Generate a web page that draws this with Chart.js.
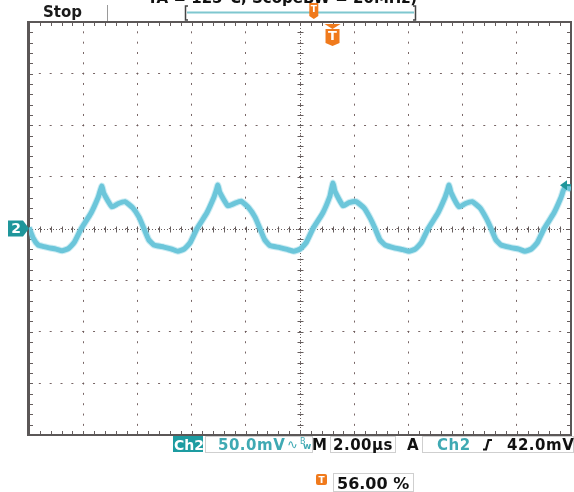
<!DOCTYPE html>
<html>
<head>
<meta charset="utf-8">
<script src="https://cdn.jsdelivr.net/npm/chart.js@4.4.0/dist/chart.umd.min.js"></script>
<style>
html, body { margin: 0; padding: 0; background: #fff; }
canvas { display: block; }
</style>
</head>
<body>
<canvas id="scope" width="574" height="492"></canvas>
<script>
// Ch2 波形 (時間 µs / 電圧 mV)
let timeUs = [
  0.00, 0.15, 0.34, 0.55, 0.71, 1.00, 1.22, 1.45, 1.67, 1.93, 2.29, 2.55, 2.62, 2.69, 2.76,
  3.06, 3.28, 3.54, 3.83, 4.06, 4.24, 4.42, 4.61, 4.98, 5.27, 5.49, 5.72, 5.94, 6.20, 6.56, 6.82, 6.90, 6.97, 7.04,
  7.34, 7.56, 7.82, 8.11, 8.34, 8.52, 8.70, 8.89, 9.26, 9.55, 9.77, 10.00, 10.22, 10.48, 10.84, 11.10, 11.15, 11.22, 11.29,
  11.59, 11.81, 12.07, 12.36, 12.59, 12.77, 12.95, 13.14, 13.51, 13.80, 14.02, 14.25, 14.47, 14.73, 15.09, 15.35, 15.43, 15.50, 15.57,
  15.87, 16.09, 16.35, 16.64, 16.87, 17.05, 17.23, 17.42, 17.79, 18.08, 18.30, 18.53, 18.75, 19.01, 19.37, 19.63, 19.72, 19.80, 20.00
];
let ch2mV = [
  1, -9, -16, -17.5, -18.5, -20, -21.5, -19.5, -13.5, 0, 15, 30, 36, 41, 34,
  21, 24, 26, 20, 11, 0, -11, -16, -18, -20, -22, -20, -14, 0, 15, 30, 36, 42, 35,
  22, 24, 26.5, 20, 11, 0, -11, -16.5, -18.5, -20.5, -22, -20, -14, 0, 15, 31, 37, 44, 36,
  22, 25, 26, 20, 10, 0, -11, -16, -19, -20.5, -22, -20, -14, 0, 15, 30, 36, 42, 35,
  21, 24, 26, 20, 10, 0, -11, -16, -18.5, -20, -22, -20, -14, 0, 15, 30, 37, 40, 38
];

// 画面設定
let timeDivUs = 2;      // 2.00µs/div
let voltDivMv = 50;     // 50.0mV/div
let triggerLevelMv = 42.0;
let triggerPosPct = 56.00;

// 表示テキスト
let titleText = 'TA = 125°C, ScopeBW = 20MHz)';
let runText = 'Stop';
let chLabel = 'Ch2';
let voltText = '50.0mV';
let timeText = '2.00µs';
let trigLevelText = '42.0mV';
let trigPosText = '56.00 %';

let teal = '#1f969b';
let orange = '#f07a1c';
let gridColor = 'rgba(105, 85, 85, 0.9)';

function drawTMarker(ctx, x, top, w, h, fontSize) {
  ctx.fillStyle = orange;
  ctx.beginPath();
  ctx.moveTo(x - w / 2, top);
  ctx.lineTo(x + w / 2, top);
  ctx.lineTo(x + w / 2, top + h - 3);
  ctx.lineTo(x, top + h);
  ctx.lineTo(x - w / 2, top + h - 3);
  ctx.closePath();
  ctx.fill();
  ctx.fillStyle = '#fff';
  ctx.font = 'bold ' + fontSize + 'px "DejaVu Sans"';
  ctx.textAlign = 'center';
  ctx.textBaseline = 'middle';
  ctx.fillText('T', x, top + h / 2 - 1);
}

let scopeDeco = {
  id: 'scopeDeco',
  beforeDatasetsDraw(chart) {
    let ctx = chart.ctx;
    let a = chart.chartArea;
    let xs = chart.scales.x;
    let ys = chart.scales.y;
    ctx.save();
    // 中心軸の小目盛り
    ctx.strokeStyle = '#665e5e';
    ctx.lineWidth = 1;
    let y0 = Math.round(ys.getPixelForValue(0)) + 0.5;
    let x0 = Math.round(xs.getPixelForValue(10)) + 0.5;
    for (let i = 0; i <= 50; i++) {
      let px = Math.round(xs.getPixelForValue(i * timeDivUs / 5)) + 0.5;
      ctx.beginPath();
      ctx.moveTo(px, y0 - 3); ctx.lineTo(px, y0 + 3);
      ctx.moveTo(px, a.top); ctx.lineTo(px, a.top + 4);
      ctx.moveTo(px, a.bottom); ctx.lineTo(px, a.bottom - 4);
      ctx.stroke();
    }
    for (let j = 0; j <= 40; j++) {
      let py = Math.round(ys.getPixelForValue(-200 + j * voltDivMv / 5)) + 0.5;
      ctx.beginPath();
      ctx.moveTo(x0 - 3, py); ctx.lineTo(x0 + 3, py);
      ctx.moveTo(a.left, py); ctx.lineTo(a.left + 4, py);
      ctx.moveTo(a.right, py); ctx.lineTo(a.right - 4, py);
      ctx.stroke();
    }
    ctx.beginPath();
    ctx.moveTo(a.left, y0); ctx.lineTo(a.right, y0);
    ctx.moveTo(x0, a.top); ctx.lineTo(x0, a.bottom);
    ctx.setLineDash([1, 2]);
    ctx.stroke();
    ctx.setLineDash([]);
    // 枠
    ctx.strokeStyle = '#5b5757';
    ctx.lineWidth = 2;
    ctx.strokeRect(a.left, a.top, a.right - a.left, a.bottom - a.top);
    ctx.fillStyle = '#5b5757';
    ctx.fillRect(a.left - 2, a.top - 1, 2, a.bottom - a.top + 2);
    ctx.restore();
  },
  afterDraw(chart) {
    let ctx = chart.ctx;
    let a = chart.chartArea;
    let xs = chart.scales.x;
    let ys = chart.scales.y;
    ctx.save();

    // タイトル (上で切れている)
    ctx.fillStyle = '#111';
    ctx.font = 'bold 15px "DejaVu Sans"';
    ctx.textAlign = 'right';
    ctx.textBaseline = 'alphabetic';
    ctx.fillText(titleText, 417, 3);

    // Stop
    ctx.textAlign = 'left';
    ctx.fillStyle = '#1a1a1a';
    ctx.fillText(runText, 43, 17);
    ctx.strokeStyle = '#9a9a9a';
    ctx.lineWidth = 1;
    ctx.beginPath();
    ctx.moveTo(107.5, 5); ctx.lineTo(107.5, 21);
    ctx.stroke();

    // レコード位置のブラケット
    ctx.strokeStyle = '#7fc7cf';
    ctx.lineWidth = 2;
    ctx.beginPath();
    ctx.moveTo(187, 12.5); ctx.lineTo(414, 12.5);
    ctx.stroke();
    ctx.strokeStyle = '#444';
    ctx.lineWidth = 1.5;
    ctx.beginPath();
    ctx.moveTo(188, 6); ctx.lineTo(185.5, 6); ctx.lineTo(185.5, 20); ctx.lineTo(188, 20);
    ctx.moveTo(413, 6); ctx.lineTo(415.5, 6); ctx.lineTo(415.5, 20); ctx.lineTo(413, 20);
    ctx.stroke();
    drawTMarker(ctx, 185 + (415 - 185) * triggerPosPct / 100, 3, 9, 16, 9);

    // トリガー位置 T
    let tx = xs.getPixelForValue(20 * triggerPosPct / 100);
    ctx.fillStyle = orange;
    ctx.beginPath();
    ctx.moveTo(tx - 8, 24); ctx.lineTo(tx + 8, 24); ctx.lineTo(tx, 29);
    ctx.closePath();
    ctx.fill();
    drawTMarker(ctx, tx, 29, 14, 17, 13);

    // Ch2 グランドマーカー
    let gy = ys.getPixelForValue(0);
    ctx.fillStyle = teal;
    ctx.beginPath();
    ctx.moveTo(8, gy - 8); ctx.lineTo(23, gy - 8); ctx.lineTo(29, gy);
    ctx.lineTo(23, gy + 8); ctx.lineTo(8, gy + 8);
    ctx.closePath();
    ctx.fill();
    ctx.fillStyle = '#fff';
    ctx.font = 'bold 14px "DejaVu Sans"';
    ctx.textAlign = 'center';
    ctx.textBaseline = 'middle';
    ctx.fillText('2', 16, gy + 1);

    // トリガーレベル矢印
    let ty = ys.getPixelForValue(triggerLevelMv);
    ctx.fillStyle = teal;
    ctx.beginPath();
    ctx.moveTo(a.right - 11, ty); ctx.lineTo(a.right - 4, ty - 5); ctx.lineTo(a.right - 4, ty + 5);
    ctx.closePath();
    ctx.fill();
    ctx.fillRect(a.right - 6, ty - 1, 6, 2);

    // 下のステータス行
    let rowTop = 436, rowH = 16, base = 450;
    ctx.textBaseline = 'alphabetic';
    ctx.textAlign = 'left';
    ctx.fillStyle = '#1d9ca1';
    ctx.fillRect(173, rowTop, 30, rowH);
    ctx.fillStyle = '#fff';
    ctx.font = 'bold 14px "DejaVu Sans"';
    ctx.fillText(chLabel, 174, base);

    ctx.strokeStyle = '#cfcfcf';
    ctx.lineWidth = 1;
    ctx.strokeRect(205.5, rowTop + 0.5, 107, rowH);
    ctx.strokeRect(330.5, rowTop + 0.5, 65, rowH);
    ctx.strokeRect(422.5, rowTop + 0.5, 151, rowH);

    ctx.font = 'bold 15px "DejaVu Sans"';
    ctx.letterSpacing = '0.5px';
    ctx.fillStyle = '#3fa9b3';
    ctx.fillText(voltText, 218, base);
    ctx.letterSpacing = '0px';
    ctx.font = '13px "DejaVu Sans"';
    ctx.fillText('∿', 287, base - 1);
    ctx.font = '8px "DejaVu Sans"';
    ctx.fillText('B', 300, base - 6);
    ctx.font = 'bold 9px "DejaVu Sans"';
    ctx.fillText('w', 303, base - 1);

    ctx.fillStyle = '#111';
    ctx.font = 'bold 15px "DejaVu Sans"';
    ctx.fillText('M', 312, base);
    ctx.letterSpacing = '0.5px';
    ctx.fillText(timeText, 333, base);
    ctx.letterSpacing = '0px';
    ctx.fillText('A', 407, base);
    ctx.letterSpacing = '0.5px';
    ctx.fillStyle = '#3fa9b3';
    ctx.fillText(chLabel, 437, base);
    ctx.fillStyle = '#111';
    ctx.fillText(trigLevelText, 507, base);
    ctx.letterSpacing = '0px';
    // 立ち上がりエッジ記号
    ctx.strokeStyle = '#111';
    ctx.lineWidth = 2.2;
    ctx.beginPath();
    ctx.moveTo(483, base - 0.5); ctx.lineTo(486, base - 0.5);
    ctx.lineTo(488.5, base - 10); ctx.lineTo(492, base - 10);
    ctx.stroke();

    // トリガー位置 %
    ctx.fillStyle = orange;
    ctx.beginPath();
    ctx.roundRect(316, 474, 11, 11, 2);
    ctx.fill();
    ctx.fillStyle = '#fff';
    ctx.font = 'bold 9px "DejaVu Sans"';
    ctx.textAlign = 'center';
    ctx.fillText('T', 321.5, 483);
    ctx.strokeStyle = '#cfcfcf';
    ctx.lineWidth = 1;
    ctx.strokeRect(333.5, 473.5, 80, 18);
    ctx.fillStyle = '#111';
    ctx.textAlign = 'left';
    ctx.font = 'bold 16px "DejaVu Sans"';
    ctx.fillText(trigPosText, 337, 489);
    ctx.restore();
  }
};

let points = timeUs.map((t, i) => ({ x: t, y: ch2mV[i] }));

let ctx = document.getElementById('scope').getContext('2d');
let scopeChart = new Chart(ctx, {
  type: 'line',
  data: {
    datasets: [{
      label: 'Ch2 halo',
      data: points,
      borderColor: 'rgba(110, 200, 220, 0.35)',
      borderWidth: 7,
      pointRadius: 0,
      tension: 0.15
    }, {
      label: 'Ch2',
      data: points,
      borderColor: '#6cc5d9',
      borderWidth: 5,
      pointRadius: 0,
      tension: 0.15
    }]
  },
  options: {
    responsive: false,
    animation: false,
    devicePixelRatio: 1,
    layout: { padding: { left: 29, top: 22, right: 3, bottom: 57 } },
    plugins: { legend: { display: false }, tooltip: { enabled: false } },
    scales: {
      x: {
        type: 'linear',
        min: 0,
        max: 10 * timeDivUs,
        ticks: { display: false, stepSize: timeDivUs },
        grid: { color: gridColor, lineWidth: 1, drawTicks: false },
        border: { display: false, dash: [2, 8.33], dashOffset: 1 }
      },
      y: {
        min: -4 * voltDivMv,
        max: 4 * voltDivMv,
        ticks: { display: false, stepSize: voltDivMv },
        grid: { color: gridColor, lineWidth: 1, drawTicks: false },
        border: { display: false, dash: [2, 8.84], dashOffset: 1 }
      }
    }
  },
  plugins: [scopeDeco]
});
</script>
</body>
</html>
